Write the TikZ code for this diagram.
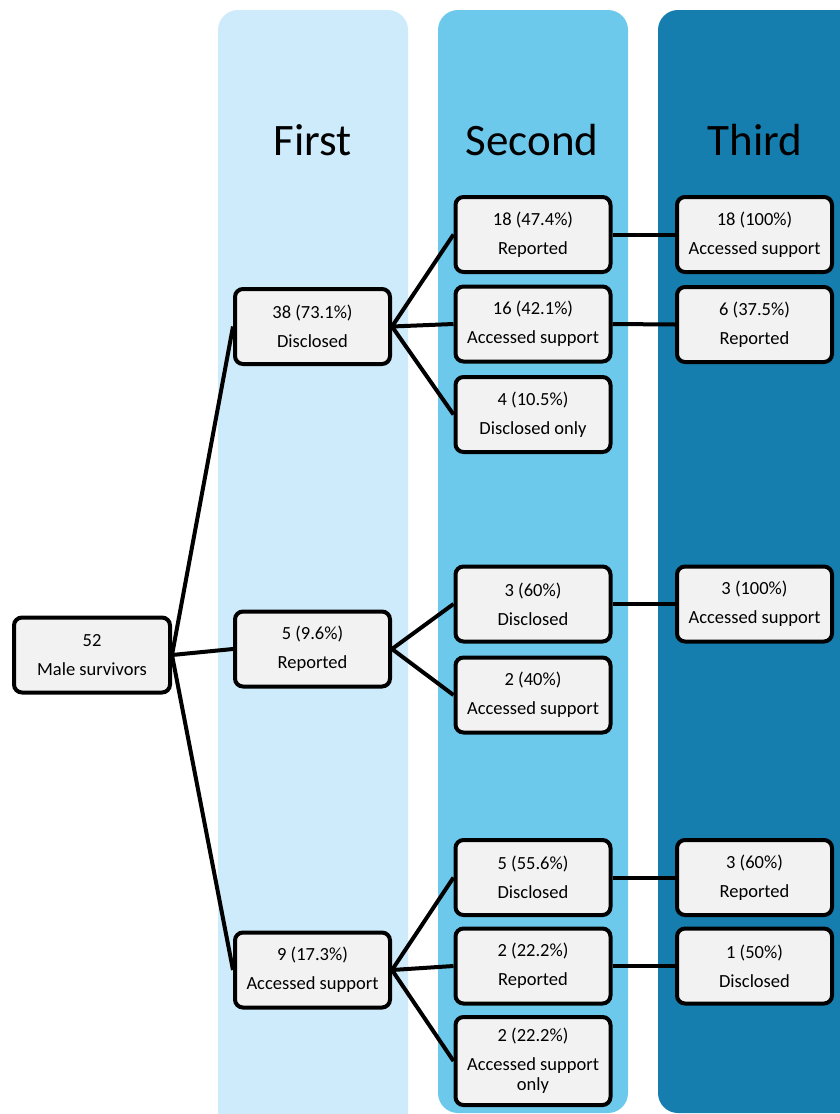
\documentclass[tikz,border=0pt]{standalone}
\usepackage{fontspec}
\setmainfont{Carlito}
\definecolor{colA}{HTML}{CDEBFA}
\definecolor{colB}{HTML}{6DC9EB}
\definecolor{colC}{HTML}{167EAE}
\definecolor{boxfill}{HTML}{F2F2F2}
\begin{document}
\begin{tikzpicture}[x=1pt,y=-1pt,
  box/.style={draw=black, line width=4pt, rounded corners=8pt, fill=boxfill,
    minimum width=155pt, minimum height=75pt, align=center, inner sep=0pt,
    font=\fontsize{18.5}{29}\selectfont},
  conn/.style={draw=black, line width=4pt},
  title/.style={font=\fontsize{45}{50}\selectfont, text=black}]
\useasboundingbox (0,0) rectangle (840,1114);
\clip (0,0) rectangle (840,1114);
% columns
\fill[colA, rounded corners=20pt] (218,10) rectangle (408,1140);
\fill[colB, rounded corners=20pt] (438,10) rectangle (628,1113);
\fill[colC, rounded corners=20pt] (658,10) rectangle (900,1113);
% titles
\node[title] (t1) at (313,140) {First};
\node[title] (t2) at (532,140) {Second};
\node[title] (t3) at (755,140) {Third};
% nodes
\node[box, minimum width=156pt] (root) at (92,655) {52\\Male survivors};
\node[box] (d1) at (312.5,326.5) {38 (73.1\%)\\Disclosed};
\node[box] (r1) at (312.5,649) {5 (9.6\%)\\Reported};
\node[box] (a1) at (312.5,970) {9 (17.3\%)\\Accessed support};
\node[box] (d1r) at (533,234.5) {18 (47.4\%)\\Reported};
\node[box] (d1a) at (533,324) {16 (42.1\%)\\Accessed support};
\node[box] (d1o) at (533,414.5) {4 (10.5\%)\\Disclosed only};
\node[box] (r1d) at (533,604) {3 (60\%)\\Disclosed};
\node[box] (r1a) at (533,695) {2 (40\%)\\Accessed support};
\node[box] (a1d) at (533,877.5) {5 (55.6\%)\\Disclosed};
\node[box] (a1r) at (533,966) {2 (22.2\%)\\Reported};
\node[box, minimum height=88pt] (a1o) at (533,1061) {2 (22.2\%)\\Accessed support\\[-9pt]only};
\node[box] (d1ra) at (754.5,234.5) {18 (100\%)\\Accessed support};
\node[box] (d1ar) at (754.5,324.5) {6 (37.5\%)\\Reported};
\node[box] (r1da) at (754.5,604) {3 (100\%)\\Accessed support};
\node[box] (a1dr) at (754.5,877.5) {3 (60\%)\\Reported};
\node[box] (a1rd) at (754.5,966) {1 (50\%)\\Disclosed};
% connectors
\draw[conn] (root.east) -- (d1.west);
\draw[conn] (root.east) -- (r1.west);
\draw[conn] (root.east) -- (a1.west);
\draw[conn] (d1.east) -- (d1r.west);
\draw[conn] (d1.east) -- (d1a.west);
\draw[conn] (d1.east) -- (d1o.west);
\draw[conn] (r1.east) -- (r1d.west);
\draw[conn] (r1.east) -- (r1a.west);
\draw[conn] (a1.east) -- (a1d.west);
\draw[conn] (a1.east) -- (a1r.west);
\draw[conn] (a1.east) -- (a1o.west);
\draw[conn] (d1r.east) -- (d1ra.west);
\draw[conn] (d1a.east) -- (d1ar.west);
\draw[conn] (r1d.east) -- (r1da.west);
\draw[conn] (a1d.east) -- (a1dr.west);
\draw[conn] (a1r.east) -- (a1rd.west);
\end{tikzpicture}
\end{document}
